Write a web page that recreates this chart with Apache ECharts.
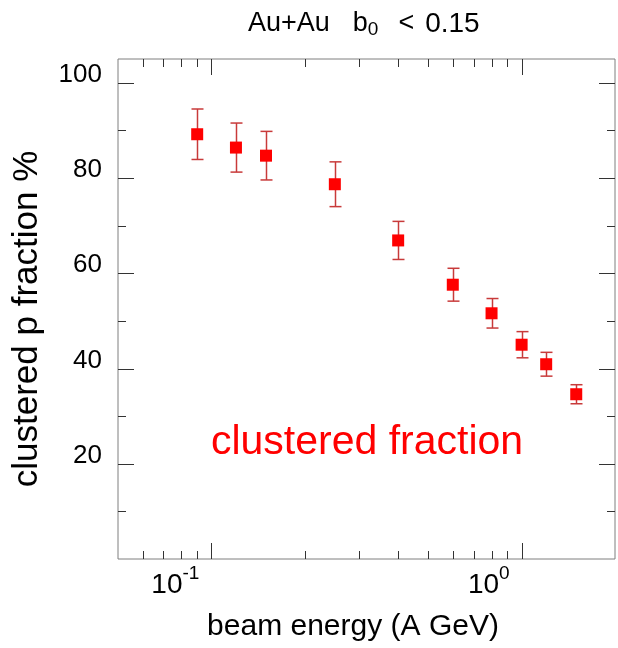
<!DOCTYPE html>
<html>
<head>
<meta charset="utf-8">
<script src="https://cdn.jsdelivr.net/npm/echarts@6/dist/echarts.min.js"></script>
<style>
  html, body { margin: 0; padding: 0; background: #ffffff; }
  #chart { width: 618px; height: 648px; }
</style>
</head>
<body>
<div id="chart"></div>
<script>
// Central Au+Au collisions: fraction of protons bound in clusters vs beam energy
const beamEnergy = [0.09, 0.12, 0.15, 0.25, 0.4, 0.6, 0.8, 1.0, 1.2, 1.5];          // A GeV
const clusteredFraction = [89.2, 86.4, 84.7, 78.7, 66.9, 57.6, 51.6, 45.0, 40.9, 34.6]; // %
const fractionError = [5.3, 5.15, 5.1, 4.7, 4.0, 3.45, 3.1, 2.75, 2.5, 2.0];        // %

// Tick positions
const xMajorTicks = [0.1, 1];
const xMinorTicks = [0.06, 0.07, 0.08, 0.09, 0.2, 0.3, 0.4, 0.5, 0.6, 0.7, 0.8, 0.9];
const yMajorTicks = [20, 40, 60, 80, 100];
const yMinorTicks = [10, 30, 50, 70, 90];

const FONT = '"Liberation Sans", Arial, Helvetica, sans-serif';
const TICK_COLOR = '#333333';
const FRAME_COLOR = '#7f7f7f';

// Inward ticks on the bottom and top edges
function xTickSeries(values, len) {
  return {
    type: 'custom',
    silent: true,
    z: 5,
    clip: false,
    data: values.map(v => [v, 50]),
    renderItem(params, api) {
      const cs = params.coordSys;
      const x = Math.round(api.coord([api.value(0), 50])[0]) + 0.5;
      const yb = cs.y + cs.height, yt = cs.y;
      const style = { stroke: TICK_COLOR, lineWidth: 1 };
      return {
        type: 'group',
        children: [
          { type: 'line', shape: { x1: x, y1: yb, x2: x, y2: yb - len }, style },
          { type: 'line', shape: { x1: x, y1: yt, x2: x, y2: yt + len }, style }
        ]
      };
    }
  };
}

// Inward ticks on the left and right edges
function yTickSeries(values, len) {
  return {
    type: 'custom',
    silent: true,
    z: 5,
    clip: false,
    data: values.map(v => [1, v]),
    renderItem(params, api) {
      const cs = params.coordSys;
      const y = Math.round(api.coord([1, api.value(1)])[1]) + 0.5;
      const xl = cs.x, xr = cs.x + cs.width;
      const style = { stroke: TICK_COLOR, lineWidth: 1 };
      return {
        type: 'group',
        children: [
          { type: 'line', shape: { x1: xl, y1: y, x2: xl + len, y2: y }, style },
          { type: 'line', shape: { x1: xr, y1: y, x2: xr - len, y2: y }, style }
        ]
      };
    }
  };
}

const points = beamEnergy.map((e, i) => [e, clusteredFraction[i]]);
const errorBars = beamEnergy.map((e, i) => [
  e,
  clusteredFraction[i] - fractionError[i],
  clusteredFraction[i] + fractionError[i]
]);

const chart = echarts.init(document.getElementById('chart'), null, { renderer: 'canvas' });

chart.setOption({
  backgroundColor: '#ffffff',
  animation: false,
  grid: {
    left: 118, right: 1, top: 59, bottom: 89,
    show: true,
    borderColor: FRAME_COLOR,
    borderWidth: 1,
    backgroundColor: 'transparent'
  },
  xAxis: {
    type: 'log',
    logBase: 10,
    min: 0.05,
    max: 2,
    axisLine: { show: false },
    axisTick: { show: false },
    splitLine: { show: false },
    minorTick: { show: false },
    axisLabel: {
      show: true,
      margin: 4,
      align: 'right',
      padding: [0, 12, 0, 0],
      formatter(v) {
        const n = Math.log10(v);
        if (Math.abs(n - Math.round(n)) > 1e-6) return '';
        return '{b|10}{s|' + Math.round(n) + '}';
      },
      rich: {
        b: { fontFamily: FONT, fontSize: 28, color: '#000', padding: [8, 0, 0, 0] },
        s: { fontFamily: FONT, fontSize: 19, color: '#000', padding: [0, 0, 14, 0] }
      }
    }
  },
  yAxis: {
    type: 'value',
    min: 0,
    max: 105,
    interval: 20,
    axisLine: { show: false },
    axisTick: { show: false },
    splitLine: { show: false },
    axisLabel: {
      show: true,
      margin: 16,
      formatter(v) {
        return (v > 0 && v <= 100 && v % 20 === 0) ? '{v|' + v + '}' : '';
      },
      rich: {
        v: { fontFamily: FONT, fontSize: 26, color: '#000', padding: [0, 0, 16, 0] }
      }
    }
  },
  graphic: [
    {
      type: 'text',
      x: 248, y: 24,
      style: {
        text: '{a|Au+Au}{b|b}{sub|0}{lt|<}{n|0.15}',
        x: 0, y: 0,
        align: 'left',
        verticalAlign: 'middle',
        rich: {
          a: { fontFamily: FONT, fontSize: 27, fill: '#000' },
          b: { fontFamily: FONT, fontSize: 27, fill: '#000', padding: [0, 0, 0, 23] },
          sub: { fontFamily: FONT, fontSize: 19, fill: '#000', padding: [12, 0, 0, 0] },
          lt: { fontFamily: FONT, fontSize: 27, fill: '#000', padding: [0, 0, 0, 20] },
          n: { fontFamily: FONT, fontSize: 28, fill: '#000', padding: [0, 0, 0, 11] }
        }
      }
    },
    {
      type: 'text',
      style: {
        text: 'beam energy (A GeV)',
        x: 353, y: 627,
        align: 'center',
        verticalAlign: 'middle',
        fontFamily: FONT,
        fontSize: 30,
        fill: '#000'
      }
    },
    {
      type: 'text',
      x: 27, y: 319,
      rotation: Math.PI / 2,
      style: {
        text: 'clustered p fraction %',
        x: 0, y: 0,
        align: 'center',
        verticalAlign: 'middle',
        fontFamily: FONT,
        fontSize: 35,
        fill: '#000'
      }
    },
    {
      type: 'text',
      style: {
        text: 'clustered fraction',
        x: 367, y: 443,
        align: 'center',
        verticalAlign: 'middle',
        fontFamily: FONT,
        fontSize: 41,
        fill: '#ff0000'
      }
    }
  ],
  series: [
    xTickSeries(xMajorTicks, 16),
    xTickSeries(xMinorTicks, 8),
    yTickSeries(yMajorTicks, 16),
    yTickSeries(yMinorTicks, 8),
    {
      name: 'error',
      type: 'custom',
      silent: true,
      z: 6,
      data: errorBars,
      encode: { x: 0, y: [1, 2] },
      renderItem(params, api) {
        const e = api.value(0);
        const lo = api.coord([e, api.value(1)]);
        const hi = api.coord([e, api.value(2)]);
        const x = Math.round(lo[0]) + 0.5;
        const cap = 6;
        const style = { stroke: '#c83a3a', lineWidth: 1.5 };
        return {
          type: 'group',
          children: [
            { type: 'line', shape: { x1: x, y1: lo[1], x2: x, y2: hi[1] }, style },
            { type: 'line', shape: { x1: x - cap, y1: lo[1], x2: x + cap, y2: lo[1] }, style },
            { type: 'line', shape: { x1: x - cap, y1: hi[1], x2: x + cap, y2: hi[1] }, style }
          ]
        };
      }
    },
    {
      name: 'clustered fraction',
      type: 'scatter',
      z: 7,
      symbol: 'rect',
      symbolSize: 12,
      itemStyle: { color: '#ff0000', opacity: 1 },
      data: points
    }
  ]
});
</script>
</body>
</html>
